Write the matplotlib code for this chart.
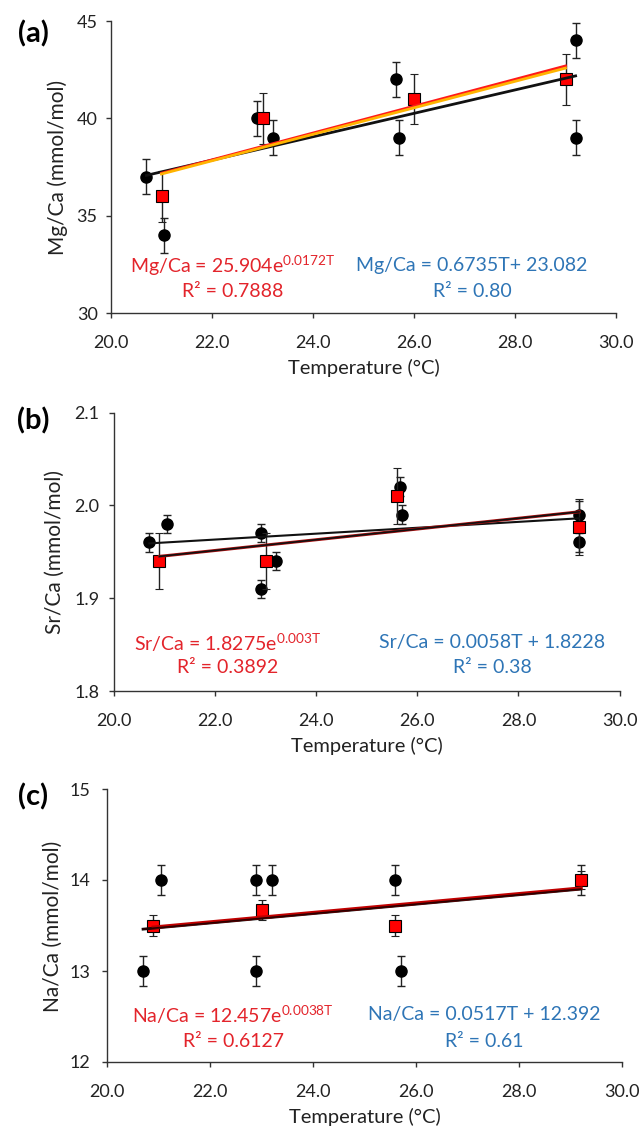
import matplotlib
matplotlib.use("Agg")
import matplotlib.pyplot as plt

plt.rcParams.update({"font.family": ["Lato", "DejaVu Sans"],
                     "mathtext.fontset": "custom", "mathtext.rm": "Lato",
                     "axes.edgecolor": "#333333", "axes.linewidth": 1.0})

RED_TXT = "#E3242B"
BLUE_TXT = "#2E75B6"
XTICKS = [20.0, 22.0, 24.0, 26.0, 28.0, 30.0]

# (a) Mg/Ca
mg_dot_t = [20.7, 21.05, 22.9, 23.2, 25.65, 25.7, 29.2, 29.2]
mg_dot_v = [37.0, 34.0, 40.0, 39.0, 42.0, 39.0, 44.0, 39.0]
mg_dot_e = [0.9, 0.9, 0.9, 0.9, 0.9, 0.9, 0.9, 0.9]
mg_sq_t = [21.0, 23.0, 26.0, 29.0]
mg_sq_v = [36.0, 40.0, 41.0, 42.0]
mg_sq_e = [1.3, 1.3, 1.3, 1.3]
mg_black_t, mg_black_v = [20.7, 29.2], [37.07, 42.18]
mg_red_t, mg_red_v = [21.0, 29.0], [37.18, 42.69]
mg_gold_t, mg_gold_v = [21.0, 29.0], [37.14, 42.58]

# (b) Sr/Ca
sr_dot_t = [20.7, 21.05, 22.9, 22.9, 23.2, 25.65, 25.7, 29.2, 29.2]
sr_dot_v = [1.96, 1.98, 1.97, 1.91, 1.94, 2.02, 1.99, 1.99, 1.96]
sr_dot_e = [0.01, 0.01, 0.01, 0.01, 0.01, 0.01, 0.01, 0.015, 0.01]
sr_sq_t = [20.9, 23.0, 25.6, 29.2]
sr_sq_v = [1.94, 1.94, 2.01, 1.977]
sr_sq_e = [0.03, 0.03, 0.03, 0.03]
sr_lineA_t, sr_lineA_v = [20.7, 29.2], [1.959, 1.986]
sr_lineB_t, sr_lineB_v = [20.9, 29.2], [1.945, 1.993]

# (c) Na/Ca
na_dot_t = [20.7, 21.05, 22.9, 22.9, 23.2, 25.6, 25.7, 29.2]
na_dot_v = [13.0, 14.0, 14.0, 13.0, 14.0, 14.0, 13.0, 14.0]
na_dot_e = [0.16, 0.16, 0.16, 0.16, 0.16, 0.16, 0.16, 0.16]
na_sq_t = [20.9, 23.0, 25.6, 29.2]
na_sq_v = [13.5, 13.67, 13.5, 14.0]
na_sq_e = [0.11, 0.11, 0.11, 0.1]
na_black_t, na_black_v = [20.7, 29.2], [13.46, 13.90]
na_red_t, na_red_v = [20.9, 29.2], [13.48, 13.91]


def base(ax, ylim, yticks, yfmt, ypad):
    ax.set_xlim(20, 30)
    ax.set_ylim(*ylim)
    ax.set_xticks(XTICKS)
    ax.set_xticklabels([f"{v:.1f}" for v in XTICKS])
    ax.set_yticks(yticks)
    ax.set_yticklabels([yfmt.format(v) for v in yticks])
    for s in ("top", "right"):
        ax.spines[s].set_visible(False)
    ax.tick_params(axis="both", direction="out", length=3.6, width=1.0,
                   color="#333333", labelsize=13, labelcolor="#222222")
    ax.tick_params(axis="x", pad=12)
    ax.tick_params(axis="y", pad=ypad)


def points(ax, dt, dv, de, st, sv, se):
    ax.errorbar(dt, dv, yerr=de, fmt="o", color="black", ms=8, ecolor="#222222",
                elinewidth=1, capsize=3, capthick=1, zorder=3)
    ax.errorbar(st, sv, yerr=se, fmt="s", mfc="#FF0000", mec="black", mew=0.8,
                ms=9, ecolor="#222222", elinewidth=1, capsize=3, capthick=1, zorder=4)


def equations(ax, left, right, xl, xr, y1, y2):
    ax.text(xl, y1, left[0], color=RED_TXT, fontsize=14, ha="center", va="center")
    ax.text(xl, y2, left[1], color=RED_TXT, fontsize=14, ha="center", va="center")
    ax.text(xr, y1, right[0], color=BLUE_TXT, fontsize=14, ha="center", va="center")
    ax.text(xr, y2, right[1], color=BLUE_TXT, fontsize=14, ha="center", va="center")


W, H = 641, 1128
fig = plt.figure(figsize=(W / 100, H / 100), dpi=100)


def axes_px(left, right, top, bottom):
    return fig.add_axes([left / W, 1 - bottom / H, (right - left) / W, (bottom - top) / H])


# ---- (a) ----
ax1 = axes_px(111, 616, 21, 313)
base(ax1, (30, 45), [30, 35, 40, 45], "{:d}", 6)
points(ax1, mg_dot_t, mg_dot_v, mg_dot_e, mg_sq_t, mg_sq_v, mg_sq_e)
ax1.plot(mg_black_t, mg_black_v, color="#111111", lw=2, zorder=5)
ax1.plot(mg_red_t, mg_red_v, color="#FF1A1A", lw=2, zorder=5)
ax1.plot(mg_gold_t, mg_gold_v, color="#FFB400", lw=2, zorder=6)
equations(ax1, ["Mg/Ca = 25.904e$^{\\mathregular{0.0172T}}$", "R² = 0.7888"],
          ["Mg/Ca = 0.6735T+ 23.082", "R² = 0.80"], 22.4, 27.15, 32.45, 31.1)

# ---- (b) ----
ax2 = axes_px(114, 619.5, 412.5, 691)
base(ax2, (1.8, 2.1), [1.8, 1.9, 2.0, 2.1], "{:.1f}", 7)
points(ax2, sr_dot_t, sr_dot_v, sr_dot_e, sr_sq_t, sr_sq_v, sr_sq_e)
ax2.plot(sr_lineA_t, sr_lineA_v, color="#111111", lw=1.5, zorder=5)
ax2.plot(sr_lineB_t, sr_lineB_v, color="#B01010", lw=2.2, zorder=5)
ax2.plot(sr_lineB_t, sr_lineB_v, color="#111111", lw=1.2, zorder=6)
equations(ax2, ["Sr/Ca = 1.8275e$^{\\mathregular{0.003T}}$", "R² = 0.3892"],
          ["Sr/Ca = 0.0058T + 1.8228", "R² = 0.38"], 22.25, 27.48, 1.852, 1.825)

# ---- (c) ----
ax3 = axes_px(107, 622, 789, 1062)
base(ax3, (12, 15), [12, 13, 14, 15], "{:d}", 8.5)
points(ax3, na_dot_t, na_dot_v, na_dot_e, na_sq_t, na_sq_v, na_sq_e)
ax3.plot(na_black_t, na_black_v, color="#111111", lw=2, zorder=5)
ax3.plot(na_red_t, na_red_v, color="#C00000", lw=2.6, zorder=5)
ax3.plot(na_black_t, na_black_v, color="#2a0000", lw=1.2, zorder=6)
equations(ax3, ["Na/Ca = 12.457e$^{\\mathregular{0.0038T}}$", "R² = 0.6127"],
          ["Na/Ca = 0.0517T + 12.392", "R² = 0.61"], 22.45, 27.32, 12.52, 12.23)

# axis titles and panel letters
for label, (x, y) in zip(["Mg/Ca (mmol/mol)", "Sr/Ca (mmol/mol)", "Na/Ca (mmol/mol)"],
                         [(58, 167), (55, 552), (53, 926)]):
    fig.text(x / W, 1 - y / H, label, rotation=90, ha="center", va="center",
             fontsize=15, color="#222222")
for x, y in [(364, 368), (367, 746), (365, 1117)]:
    fig.text(x / W, 1 - y / H, "Temperature (°C)", ha="center", va="center",
             fontsize=14.5, color="#222222")
for lab, y in zip(["(a)", "(b)", "(c)"], [34, 421, 797]):
    fig.text(33 / W, 1 - y / H, lab, ha="center", va="center", fontsize=21,
             fontweight="bold", color="black")

fig.savefig("out.png", dpi=100)
